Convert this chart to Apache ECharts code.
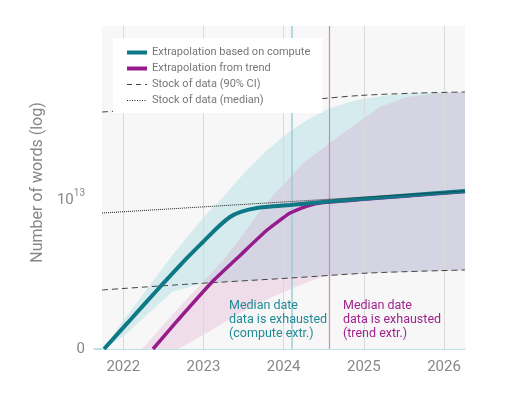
<!DOCTYPE html>
<html>
<head>
<meta charset="utf-8">
<script src="https://cdn.jsdelivr.net/npm/echarts@6/dist/echarts.min.js"></script>
<style>
  html, body { margin: 0; padding: 0; background: #fff; }
  #main { width: 512px; height: 399px; }
</style>
</head>
<body>
<div id="main"></div>
<script>
// x = decimal year, y = log10(number of words); the "0" tick sits at the axis floor
var xTicks = [2022, 2023, 2024, 2025, 2026];
var yFloor = 11.5;
var yTop = 14.75;
var yLabelTick = 13;

var computeLine = [
  [2021.760, 11.500], [2022.059, 11.767], [2022.458, 12.124], [2022.795, 12.416],
  [2022.994, 12.577], [2023.169, 12.718], [2023.331, 12.828], [2023.456, 12.878],
  [2023.668, 12.919], [2024.080, 12.949], [2024.491, 12.979], [2024.953, 13.009],
  [2025.451, 13.040], [2026.262, 13.090]
];
var trendLine = [
  [2022.371, 11.500], [2022.683, 11.792], [2023.119, 12.184], [2023.456, 12.441],
  [2023.793, 12.697], [2024.080, 12.868], [2024.292, 12.939], [2024.491, 12.974],
  [2024.953, 13.003], [2025.451, 13.034], [2026.262, 13.084]
];
var stockMedian = [
  [2021.735, 12.868], [2023.992, 12.979], [2026.262, 13.090]
];
var stockUpper = [
  [2021.735, 13.885], [2022.957, 13.940], [2024.267, 14.005], [2024.953, 14.051],
  [2025.701, 14.076], [2026.262, 14.086]
];
var stockLower = [
  [2021.735, 12.094], [2022.832, 12.154], [2024.080, 12.214], [2025.077, 12.265],
  [2026.262, 12.295]
];
var computeBandHigh = [
  [2021.760, 11.500], [2021.959, 11.741], [2022.333, 12.144], [2022.645, 12.476],
  [2022.994, 12.818], [2023.269, 13.050], [2023.518, 13.281], [2023.768, 13.482],
  [2024.017, 13.653], [2024.292, 13.804], [2024.578, 13.925], [2024.915, 14.005],
  [2025.327, 14.056], [2025.738, 14.076], [2026.262, 14.086]
];
var computeBandLow = [
  [2021.760, 11.500], [2022.022, 11.641], [2022.333, 11.872], [2022.608, 12.074],
  [2022.957, 12.154], [2024.080, 12.214], [2025.077, 12.265], [2026.262, 12.295]
];
var trendBandHigh = [
  [2022.234, 11.500], [2022.608, 11.842], [2022.957, 12.144], [2023.269, 12.416],
  [2023.518, 12.677], [2023.730, 12.919], [2023.955, 13.120], [2024.242, 13.372],
  [2024.578, 13.573], [2024.915, 13.774], [2025.202, 13.935], [2025.539, 14.036],
  [2025.950, 14.076], [2026.262, 14.086]
];
var trendBandLow = [
  [2022.683, 11.500], [2023.082, 11.681], [2023.456, 11.862], [2023.830, 12.013],
  [2024.204, 12.144], [2024.516, 12.235], [2025.077, 12.265], [2026.262, 12.295]
];
var exhaustedCompute = 2024.10;
var exhaustedTrend = 2024.57;

var TEAL = '#0f7887';
var MAGENTA = '#961c8c';
var FONT = 'Roboto';

function band(name, high, low, color) {
  return {
    name: name,
    type: 'custom',
    silent: true,
    z: 2,
    clip: true,
    data: high,
    renderItem: function (params, api) {
      if (params.dataIndex !== 0) return;
      var pts = high.map(function (p) { return api.coord(p); })
        .concat(low.slice().reverse().map(function (p) { return api.coord(p); }));
      return { type: 'polygon', shape: { points: pts }, style: { fill: color } };
    }
  };
}

var myChart = echarts.init(document.getElementById('main'));

myChart.setOption({
  animation: false,
  textStyle: { fontFamily: FONT },
  grid: { left: 94, right: 47, top: 26, bottom: 50 },
  legend: {
    orient: 'vertical',
    left: 113,
    top: 38,
    z: 20,
    itemWidth: 20,
    itemHeight: 12,
    itemGap: 5,
    padding: [9, 12, 7, 12],
    backgroundColor: '#fff',
    itemStyle: { opacity: 0 },
    textStyle: { fontSize: 11, color: '#777', fontFamily: FONT },
    data: [
      { name: 'Extrapolation based on compute', lineStyle: { color: TEAL, width: 4, type: 'solid' } },
      { name: 'Extrapolation from trend', lineStyle: { color: MAGENTA, width: 4, type: 'solid' } },
      { name: 'Stock of data (90% CI)', lineStyle: { color: '#444', width: 1, type: [5, 4] } },
      { name: 'Stock of data (median)', lineStyle: { color: '#222', width: 1, type: [1, 1.5] } }
    ]
  },
  xAxis: {
    type: 'value',
    min: 2021.635,
    max: 2026.262,
    axisLine: { lineStyle: { color: '#a9d6df', width: 1.5 } },
    axisTick: { show: false },
    splitLine: { show: false },
    axisLabel: {
      customValues: xTicks,
      margin: 11,
      fontSize: 15,
      color: '#888',
      formatter: function (v) { return String(v); }
    }
  },
  yAxis: {
    type: 'value',
    min: yFloor,
    max: yTop,
    interval: 0.5,
    name: 'Number of words (log)',
    nameLocation: 'middle',
    nameGap: 48,
    nameTextStyle: { fontSize: 16, color: '#888', padding: [0, 0, 0, 10] },
    axisLine: { show: false },
    axisTick: { show: false },
    splitLine: { show: false },
    axisLabel: {
      margin: 9,
      fontSize: 15,
      color: '#888',
      formatter: function (v) {
        if (Math.abs(v - yLabelTick) < 1e-6) return '{b|10}{s|13}';
        if (Math.abs(v - yFloor) < 1e-6) return '0';
        return '';
      },
      rich: {
        b: { fontSize: 15, lineHeight: 22, color: '#888' },
        s: { fontSize: 10, lineHeight: 12, verticalAlign: 'top', color: '#888' }
      }
    }
  },
  graphic: [
    {
      type: 'text', left: 229, top: 299, z: 30,
      style: { text: 'Median date\ndata is exhausted\n(compute extr.)', fontSize: 12.5,
        lineHeight: 14, fill: '#1f8a96', fontFamily: FONT }
    },
    {
      type: 'text', left: 343, top: 299, z: 30,
      style: { text: 'Median date\ndata is exhausted\n(trend extr.)', fontSize: 12.5,
        lineHeight: 14, fill: '#a0238f', fontFamily: FONT }
    }
  ],
  series: [
    {
      // plot background, gridlines and the two "exhausted" markers
      type: 'line',
      data: [],
      z: 1,
      markArea: {
        silent: true,
        itemStyle: { color: '#f7f7f7' },
        data: [[{ xAxis: 2021.735, yAxis: yFloor }, { xAxis: 2026.262, yAxis: yTop }]]
      },
      markLine: {
        silent: true,
        symbol: ['none', 'none'],
        label: { show: false },
        z: 3,
        data: xTicks.map(function (v) {
          return { xAxis: v, lineStyle: { color: '#dadada', width: 1, type: 'solid' } };
        }).concat([
          { xAxis: exhaustedCompute, lineStyle: { color: '#9fcdd6', width: 1.5, type: 'solid' } },
          { xAxis: exhaustedTrend, lineStyle: { color: '#d77fcb', width: 1.2, type: 'solid' } }
        ])
      }
    },
    band('compute band', computeBandHigh, computeBandLow, 'rgba(127,203,211,0.28)'),
    band('trend band', trendBandHigh, trendBandLow, 'rgba(212,132,192,0.22)'),
    {
      name: 'Stock of data (90% CI)',
      type: 'line', data: stockUpper, symbol: 'none', z: 8, smooth: 0.3,
      lineStyle: { color: '#444', width: 1, type: [6, 4] }, itemStyle: { color: '#444' }
    },
    {
      name: 'Stock of data (90% CI)',
      type: 'line', data: stockLower, symbol: 'none', z: 8, smooth: 0.3,
      lineStyle: { color: '#444', width: 1, type: [6, 4] }, itemStyle: { color: '#444' }
    },
    {
      name: 'Extrapolation from trend',
      type: 'line', data: trendLine, symbol: 'none', z: 9, smooth: 0.15,
      lineStyle: { color: MAGENTA, width: 3.5 }, itemStyle: { color: MAGENTA }
    },
    {
      name: 'Extrapolation based on compute',
      type: 'line', data: computeLine, symbol: 'none', z: 10, smooth: 0.15,
      lineStyle: { color: TEAL, width: 4 }, itemStyle: { color: TEAL }
    },
    {
      name: 'Stock of data (median)',
      type: 'line', data: stockMedian, symbol: 'none', z: 11,
      lineStyle: { color: '#222', width: 1, type: 'dotted' }, itemStyle: { color: '#222' }
    }
  ]
});

window.addEventListener('resize', function () { myChart.resize(); });
</script>
</body>
</html>
